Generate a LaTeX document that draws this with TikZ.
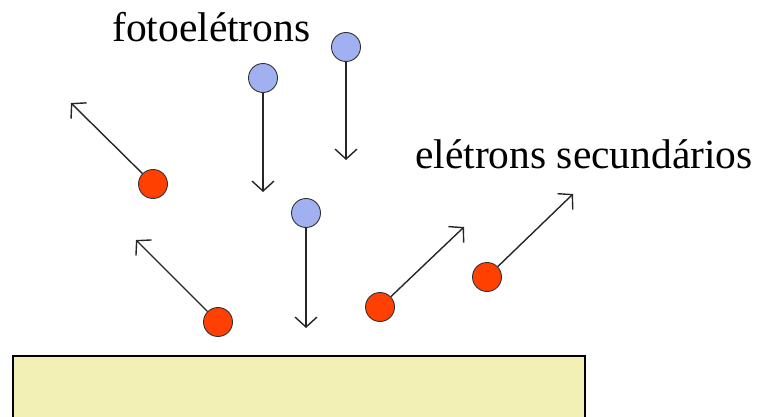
\documentclass[tikz,border=0pt]{standalone}
\usepackage{fontspec}
\setmainfont{Liberation Serif}
\usetikzlibrary{arrows.meta}
\definecolor{photoblue}{RGB}{160,176,240}
\definecolor{secred}{RGB}{255,64,0}
\definecolor{platey}{RGB}{242,240,180}
\tikzset{
  photon/.style={circle,draw=black!80,line width=0.9pt,fill=photoblue,minimum size=29pt,inner sep=0pt},
  secondary/.style={circle,draw=black!80,line width=0.9pt,fill=secred,minimum size=29pt,inner sep=0pt},
  flight/.style={draw=black!85,line width=1.4pt,-{Straight Barb[length=10pt,width=22pt,line width=1.4pt]}},
  label/.style={font=\fontsize{41.5}{48}\selectfont,inner sep=0pt,anchor=base west}
}
\begin{document}
\begin{tikzpicture}[x=1pt,y=-1pt]
\useasboundingbox (0,0) rectangle (766,417);
\fill[white] (0,0) rectangle (766,417);
% plate
\draw[fill=platey,line width=2pt] (13,420) -- (13,356) -- (585,356) -- (585,420);
% labels
\node[label] (lfoto) at (112,42) {fotoelétrons};
\node[label] (lsec) at (415,169) {elétrons secundários};
% photoelectrons
\node[photon] (b1) at (263,78) {};
\node[photon] (b2) at (346,47) {};
\node[photon] (b3) at (306,213) {};
\coordinate (tb1) at (263,192);
\coordinate (tb2) at (346,160);
\coordinate (tb3) at (306,328);
\draw[flight] (b1) -- (tb1);
\draw[flight] (b2) -- (tb2);
\draw[flight] (b3) -- (tb3);
% secondary electrons
\node[secondary] (r1) at (153,184) {};
\node[secondary] (r2) at (218,322) {};
\node[secondary] (r3) at (380,307) {};
\node[secondary] (r4) at (487,277) {};
\coordinate (tr1) at (71,103);
\coordinate (tr2) at (136,240);
\coordinate (tr3) at (464,227);
\coordinate (tr4) at (573,194);
\draw[flight] (r1) -- (tr1);
\draw[flight] (r2) -- (tr2);
\draw[flight] (r3) -- (tr3);
\draw[flight] (r4) -- (tr4);
\end{tikzpicture}
\end{document}
